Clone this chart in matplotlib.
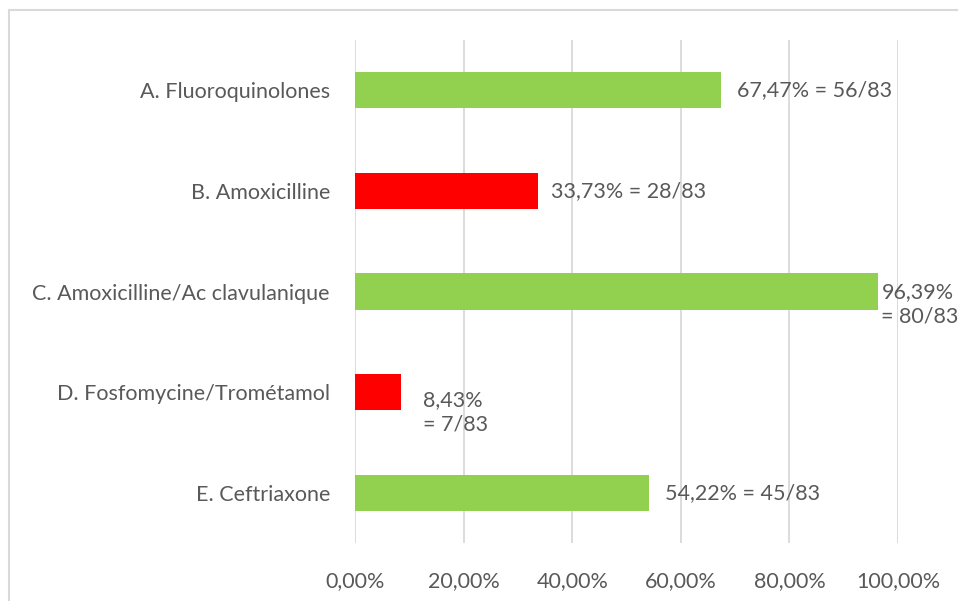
import matplotlib.pyplot as plt
from matplotlib.patches import Rectangle
from matplotlib.ticker import FuncFormatter

categories = ["A. Fluoroquinolones", "B. Amoxicilline", "C. Amoxicilline/Ac clavulanique",
              "D. Fosfomycine/Trométamol", "E. Ceftriaxone"]
values = [67.47, 33.73, 96.39, 8.43, 54.22]
labels = ["67,47% = 56/83", "33,73% = 28/83", "96,39%\n= 80/83", "8,43%\n= 7/83", "54,22% = 45/83"]
colors = ["#92D050", "#FF0000", "#92D050", "#FF0000", "#92D050"]
# horizontal / vertical offset (px) of each label from the bar end
lab_dx = [16, 13, 3, 22, 16]
lab_dy = [0, 0, -13, -20, 0]

plt.rcParams['font.family'] = ['Lato', 'DejaVu Sans']
text_col = "#595959"
grid_col = "#d9d9d9"
fs = 15.5

W, H = 958, 601
fig = plt.figure(figsize=(W / 100, H / 100), dpi=100)
fig.patches.append(Rectangle((9 / W, -0.5), 2, 1.5 - 10 / H, transform=fig.transFigure,
                             fill=False, edgecolor=grid_col, linewidth=1.5))
ax = fig.add_axes([355 / W, 1 - 543 / H, (898 - 355) / W, (543 - 40) / H])

y = list(range(len(categories)))
ax.barh(y, values, height=0.36, color=colors, zorder=2)
ax.set_ylim(len(categories) - 0.5, -0.5)
ax.set_xlim(0, 100)
ax.set_xticks([0, 20, 40, 60, 80, 100])
ax.xaxis.set_major_formatter(FuncFormatter(lambda v, p: f"{v:.2f}%".replace(".", ",")))
ax.set_yticks(y)
ax.set_yticklabels(categories)
ax.tick_params(axis='both', length=0, labelsize=fs, colors=text_col)
ax.tick_params(axis='x', pad=20)
ax.tick_params(axis='y', pad=18)
ax.grid(axis='x', color=grid_col, linewidth=1.3, zorder=0)
for s in ax.spines.values():
    s.set_visible(False)

for i, (v, lab) in enumerate(zip(values, labels)):
    ax.annotate(lab, (v, i), xytext=(lab_dx[i] * 0.72, lab_dy[i] * 0.72),
                textcoords='offset points', va='center', ha='left',
                fontsize=fs, color=text_col, linespacing=1.3, annotation_clip=False)

fig.savefig("out.png", dpi=100)
